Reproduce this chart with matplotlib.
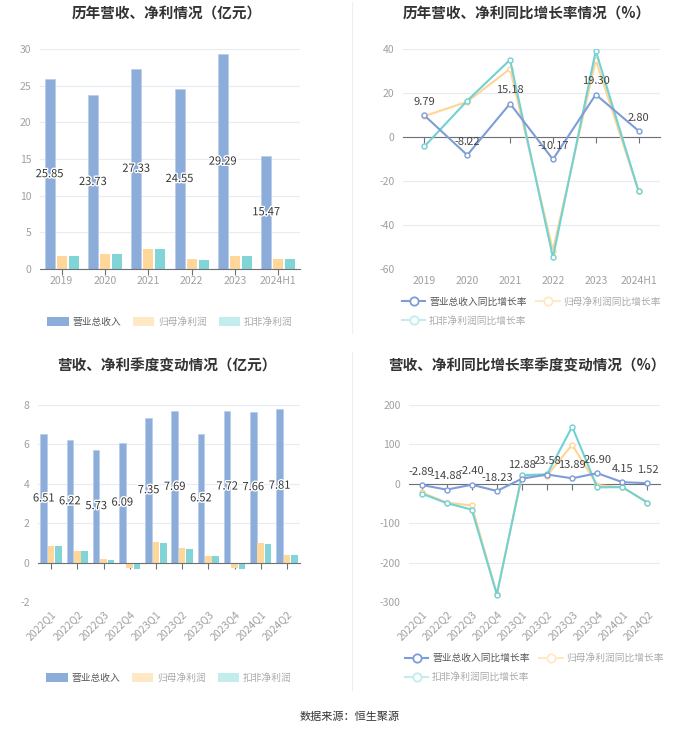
import numpy as np
import matplotlib
matplotlib.use('Agg')
import matplotlib.pyplot as plt
from matplotlib.lines import Line2D
from matplotlib.patches import Patch
import matplotlib.patheffects as pe

plt.rcParams['font.family'] = ['Noto Sans CJK SC', 'DejaVu Sans']
plt.rcParams['axes.unicode_minus'] = False

# ---- data ----
years = ['2019', '2020', '2021', '2022', '2023', '2024H1']
rev_year = [25.85, 23.73, 27.33, 24.55, 29.29, 15.47]
np_year = [1.82, 2.09, 2.78, 1.37, 1.82, 1.37]
dnp_year = [1.73, 2.00, 2.73, 1.23, 1.73, 1.37]

rev_year_g = [9.79, -8.22, 15.18, -10.17, 19.30, 2.80]
np_year_g = [9.5, 16.0, 31.0, -51.6, 35.1, -24.7]
dnp_year_g = [-4.3, 16.5, 35.1, -54.7, 39.2, -24.7]

quarters = ['2022Q1', '2022Q2', '2022Q3', '2022Q4', '2023Q1', '2023Q2',
            '2023Q3', '2023Q4', '2024Q1', '2024Q2']
rev_q = [6.51, 6.22, 5.73, 6.09, 7.35, 7.69, 6.52, 7.72, 7.66, 7.81]
np_q = [0.86, 0.59, 0.17, -0.27, 1.05, 0.75, 0.36, -0.29, 0.97, 0.39]
dnp_q = [0.83, 0.58, 0.14, -0.30, 1.02, 0.71, 0.32, -0.32, 0.95, 0.39]

rev_q_g = [-2.89, -14.88, -2.40, -18.23, 12.88, 23.58, 13.89, 26.90, 4.15, 1.52]
np_q_g = [-22, -47.7, -55, -279, 20, 21, 99, -3.5, -8.5, -47.5]
dnp_q_g = [-24.7, -49, -65.5, -281, 22, 24, 145, -9, -8.5, -47.7]

bar_labels = ['营业总收入', '归母净利润', '扣非净利润']
line_labels = ['营业总收入同比增长率', '归母净利润同比增长率', '扣非净利润同比增长率']

# ---- style ----
c_rev, c_np, c_dnp = '#8CACDA', '#FFD899', '#82D5D7'
c_rev_l, c_np_l, c_dnp_l = '#7E9DD8', '#FFD595', '#72D1D2'
fade_np, fade_dnp = '#FFE8C6', '#C3ECEC'
grid_c = '#E6EBF4'
tick_c = '#A0A0A0'
axis_c = '#6E7079'
title_kw = dict(fontsize=10.5, fontweight='bold', color='#333333', ha='center', va='center')

fig = plt.figure(figsize=(7.0, 7.34), dpi=100)
W, H = 700, 734


def make_ax(x0, x1, y0, y1):
    return fig.add_axes([x0 / W, 1 - y1 / H, (x1 - x0) / W, (y1 - y0) / H])


def style_ax(ax, cats, ylim, yticks, rotate=False):
    n = len(cats)
    ax.set_xlim(-0.5, n - 0.5)
    ax.set_ylim(*ylim)
    ax.set_yticks(yticks)
    ax.set_yticklabels([f'{t:g}' for t in yticks])
    for s in ax.spines.values():
        s.set_visible(False)
    ax.spines['bottom'].set_visible(True)
    ax.spines['bottom'].set_position(('data', 0))
    ax.spines['bottom'].set_color(axis_c)
    ax.set_xticks(np.arange(n))
    ax.tick_params(axis='x', length=4, color=axis_c, labelbottom=False)
    ax.tick_params(axis='y', length=0, labelsize=7.5, labelcolor=tick_c, pad=6)
    ax.grid(axis='y', color=grid_c, lw=0.8)
    ax.set_axisbelow(True)
    sec = ax.secondary_xaxis('bottom')
    sec.set_xticks(np.arange(n))
    if rotate:
        sec.set_xticklabels(cats, rotation=45, ha='right', rotation_mode='anchor')
    else:
        sec.set_xticklabels(cats)
    sec.tick_params(length=0, labelsize=7.5, labelcolor=tick_c, pad=5)
    sec.spines['bottom'].set_visible(False)


def bar_panel(ax, cats, rev, np_, dnp, ylim, yticks, width, rotate=False):
    x = np.arange(len(cats))
    off = 0.28
    ax.bar(x - off, rev, width, color=c_rev, edgecolor='#B8CDEB', lw=0.5, zorder=2)
    ax.bar(x, np_, width, color=c_np, zorder=2)
    ax.bar(x + off, dnp, width, color=c_dnp, zorder=2)
    for xi, v in zip(x, rev):
        ax.text(xi - off, v / 2, f'{v:.2f}', ha='center', va='center', fontsize=8,
                color='#333333', zorder=5,
                path_effects=[pe.withStroke(linewidth=2, foreground='white')])
    style_ax(ax, cats, ylim, yticks, rotate)


def line_panel(ax, cats, rev, np_, dnp, ylim, yticks, rotate=False):
    x = np.arange(len(cats))
    mk = dict(marker='o', ms=3.6, mfc='white', mew=1.0, lw=1.5)
    ax.plot(x, np_, color=c_np_l, mec=c_np_l, zorder=3, **mk)
    ax.plot(x, dnp, color=c_dnp_l, mec=c_dnp_l, zorder=3, **mk)
    ax.plot(x, rev, color=c_rev_l, mec=c_rev_l, zorder=4, **mk)
    for xi, v in zip(x, rev):
        ax.annotate(f'{v:.2f}', (xi, v), xytext=(0, 6), textcoords='offset points',
                    ha='center', va='bottom', fontsize=8, color='#444444', zorder=5)
    style_ax(ax, cats, ylim, yticks, rotate)


def bar_legend(ax, y):
    handles = [Patch(facecolor=c_rev, edgecolor='none'),
               Patch(facecolor=fade_np, edgecolor='none'),
               Patch(facecolor=fade_dnp, edgecolor='none')]
    leg = ax.legend(handles, bar_labels, loc='center', bbox_to_anchor=(0.5, y),
                    ncol=3, frameon=False, fontsize=7, handlelength=2.2,
                    handleheight=1.0, columnspacing=1.2, handletextpad=0.4)
    cols = ['#555555', '#AAAAAA', '#AAAAAA']
    for t, c in zip(leg.get_texts(), cols):
        t.set_color(c)


def line_legend(ax, y):
    mk = dict(marker='o', ms=6, mfc='white', mew=1.3, lw=1.5)
    h1 = Line2D([], [], color=c_rev_l, mec=c_rev_l, **mk)
    h2 = Line2D([], [], color=fade_np, mec=fade_np, **mk)
    h3 = Line2D([], [], color=fade_dnp, mec=fade_dnp, **mk)
    leg = ax.legend([h1, h3, h2], [line_labels[0], line_labels[2], line_labels[1]],
                    loc='upper center', bbox_to_anchor=(0.5, y), ncol=2, frameon=False,
                    fontsize=7, handlelength=2.4, columnspacing=1.0, handletextpad=0.4,
                    labelspacing=0.95)
    for t in leg.get_texts():
        t.set_color('#AAAAAA')
    leg.get_texts()[0].set_color('#555555')


# ---- top left ----
ax1 = make_ax(40, 300, 49, 269)
bar_panel(ax1, years, rev_year, np_year, dnp_year, (0, 30), np.arange(0, 31, 5), 0.23)
bar_legend(ax1, -0.24)
fig.text(167 / W, 1 - 14 / H, '历年营收、净利情况（亿元）', **title_kw)

# ---- top right ----
ax2 = make_ax(403, 660, 49, 269)
line_panel(ax2, years, rev_year_g, np_year_g, dnp_year_g, (-60, 40), np.arange(-60, 41, 20))
line_legend(ax2, -0.085)
fig.text(527 / W, 1 - 14 / H, '历年营收、净利同比增长率情况（%）', **title_kw)

# ---- bottom left ----
ax3 = make_ax(38, 300, 405, 602)
bar_panel(ax3, quarters, rev_q, np_q, dnp_q, (-2, 8), np.arange(-2, 9, 2), 0.25, rotate=True)
bar_legend(ax3, -0.386)
fig.text(167 / W, 1 - 366 / H, '营收、净利季度变动情况（亿元）', **title_kw)

# ---- bottom right ----
ax4 = make_ax(409, 660, 405, 602)
line_panel(ax4, quarters, rev_q_g, np_q_g, dnp_q_g, (-300, 200), np.arange(-300, 201, 100),
           rotate=True)
line_legend(ax4, -0.215)
fig.text(527 / W, 1 - 366 / H, '营收、净利同比增长率季度变动情况（%）', **title_kw)

# separators and source
fig.add_artist(Line2D([352 / W, 352 / W], [1 - 2 / H, 1 - 333 / H], color='#EEEEEE', lw=0.8))
fig.add_artist(Line2D([352 / W, 352 / W], [1 - 352 / H, 1 - 690 / H], color='#EEEEEE', lw=0.8))
fig.text(350 / W, 1 - 717 / H, '数据来源：恒生聚源', fontsize=8, color='#333333',
         ha='center', va='center')

fig.savefig('out.png', dpi=100, facecolor='white')
